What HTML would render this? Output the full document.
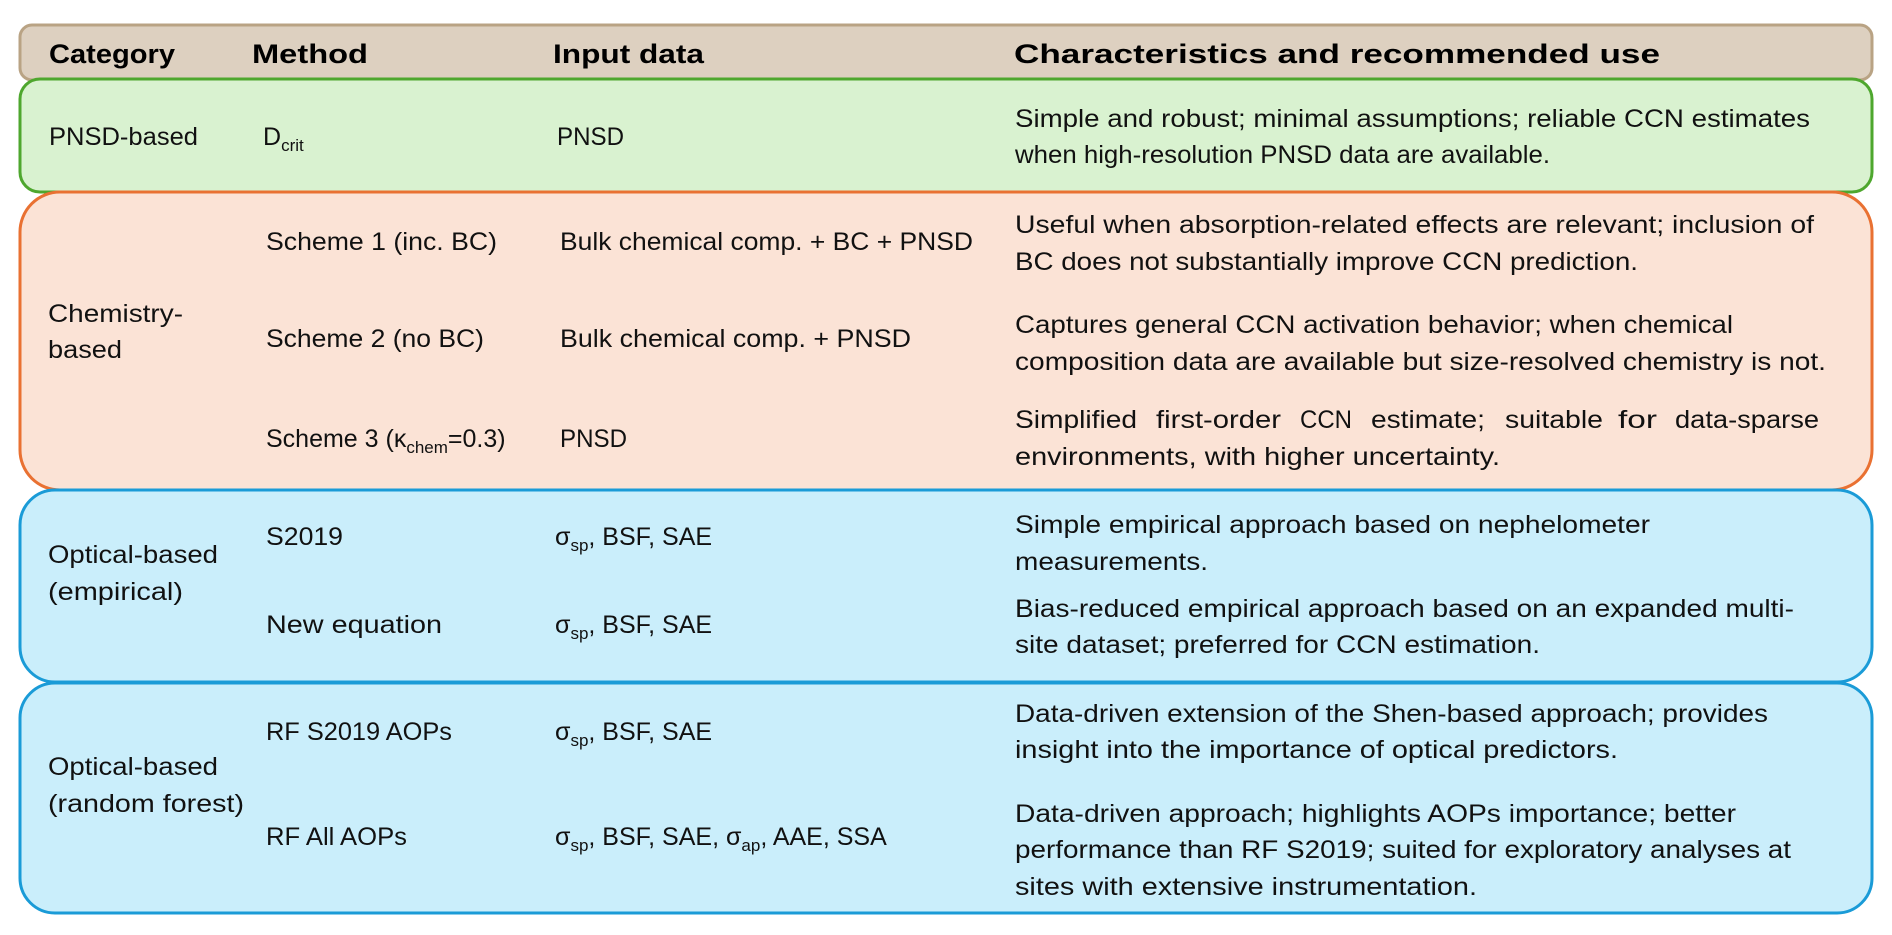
<!DOCTYPE html>
<html><head><meta charset="utf-8"><style>
html,body{margin:0;padding:0;background:#fff;width:1892px;height:935px;overflow:hidden}
svg{display:block}
text{font-family:"Liberation Sans",sans-serif;font-size:25px;fill:#111}
.h{font-weight:bold;font-size:27px;fill:#000}
</style></head><body>
<svg width="1892" height="935" viewBox="0 0 1892 935">
<rect x="20" y="25" width="1852" height="55" rx="12" fill="#ddd0c0" stroke="#b9a384" stroke-width="3"/>
<text class="h" x="49" y="63" textLength="126" lengthAdjust="spacingAndGlyphs">Category</text>
<text class="h" x="252" y="63" textLength="116" lengthAdjust="spacingAndGlyphs">Method</text>
<text class="h" x="553" y="63" textLength="151" lengthAdjust="spacingAndGlyphs">Input data</text>
<text class="h" x="1014" y="63" textLength="646" lengthAdjust="spacingAndGlyphs">Characteristics and recommended use</text>

<rect x="20" y="79" width="1852" height="113" rx="20" fill="#d9f2d0" stroke="#4ea72e" stroke-width="3"/>
<text x="49" y="145" textLength="149" lengthAdjust="spacingAndGlyphs">PNSD-based</text>
<text x="263" y="145">D<tspan font-size="17" dy="6">crit</tspan></text>
<text x="557" y="145" textLength="67" lengthAdjust="spacingAndGlyphs">PNSD</text>
<text x="1015" y="127" textLength="795" lengthAdjust="spacingAndGlyphs">Simple and robust; minimal assumptions; reliable CCN estimates</text>
<text x="1015" y="163" textLength="535" lengthAdjust="spacingAndGlyphs">when high-resolution PNSD data are available.</text>

<rect x="20" y="192" width="1852" height="298" rx="40" fill="#fbe3d6" stroke="#e97132" stroke-width="3"/>
<text x="48" y="322" textLength="135" lengthAdjust="spacingAndGlyphs">Chemistry-</text>
<text x="48" y="358" textLength="74" lengthAdjust="spacingAndGlyphs">based</text>
<text x="266" y="250" textLength="231" lengthAdjust="spacingAndGlyphs">Scheme 1 (inc. BC)</text>
<text x="266" y="347" textLength="218" lengthAdjust="spacingAndGlyphs">Scheme 2 (no BC)</text>
<text x="266" y="447">Scheme 3 (κ<tspan font-size="17" dy="6">chem</tspan><tspan dy="-6">=0.3)</tspan></text>
<text x="560" y="250" textLength="413" lengthAdjust="spacingAndGlyphs">Bulk chemical comp. + BC + PNSD</text>
<text x="560" y="347" textLength="351" lengthAdjust="spacingAndGlyphs">Bulk chemical comp. + PNSD</text>
<text x="560" y="447" textLength="67" lengthAdjust="spacingAndGlyphs">PNSD</text>
<text x="1015" y="233" textLength="799" lengthAdjust="spacingAndGlyphs">Useful when absorption-related effects are relevant; inclusion of</text>
<text x="1015" y="270" textLength="623" lengthAdjust="spacingAndGlyphs">BC does not substantially improve CCN prediction.</text>
<text x="1015" y="333" textLength="718" lengthAdjust="spacingAndGlyphs">Captures general CCN activation behavior; when chemical</text>
<text x="1015" y="370" textLength="811" lengthAdjust="spacingAndGlyphs">composition data are available but size-resolved chemistry is not.</text>
<g>
<text x="1015" y="428" textLength="122" lengthAdjust="spacingAndGlyphs">Simplified</text>
<text x="1156" y="428" textLength="125" lengthAdjust="spacingAndGlyphs">first-order</text>
<text x="1300" y="428" textLength="52" lengthAdjust="spacingAndGlyphs">CCN</text>
<text x="1371" y="428" textLength="114" lengthAdjust="spacingAndGlyphs">estimate;</text>
<text x="1505" y="428" textLength="98" lengthAdjust="spacingAndGlyphs">suitable</text>
<text x="1618" y="428" textLength="39" lengthAdjust="spacingAndGlyphs">for</text>
<text x="1675" y="428" textLength="144" lengthAdjust="spacingAndGlyphs">data-sparse</text>
</g>
<text x="1015" y="465" textLength="485" lengthAdjust="spacingAndGlyphs">environments, with higher uncertainty.</text>

<rect x="20" y="490" width="1852" height="192" rx="35" fill="#caeefb" stroke="#1a9bd7" stroke-width="3"/>
<text x="48" y="563" textLength="170" lengthAdjust="spacingAndGlyphs">Optical-based</text>
<text x="48" y="600" textLength="135" lengthAdjust="spacingAndGlyphs">(empirical)</text>
<text x="266" y="545" textLength="77" lengthAdjust="spacingAndGlyphs">S2019</text>
<text x="266" y="633" textLength="176" lengthAdjust="spacingAndGlyphs">New equation</text>
<text x="555" y="545">σ<tspan font-size="17" dy="6">sp</tspan><tspan dy="-6">, BSF, SAE</tspan></text>
<text x="555" y="633">σ<tspan font-size="17" dy="6">sp</tspan><tspan dy="-6">, BSF, SAE</tspan></text>
<text x="1015" y="533" textLength="635" lengthAdjust="spacingAndGlyphs">Simple empirical approach based on nephelometer</text>
<text x="1015" y="570" textLength="193" lengthAdjust="spacingAndGlyphs">measurements.</text>
<text x="1015" y="617" textLength="779" lengthAdjust="spacingAndGlyphs">Bias-reduced empirical approach based on an expanded multi-</text>
<text x="1015" y="653" textLength="525" lengthAdjust="spacingAndGlyphs">site dataset; preferred for CCN estimation.</text>

<rect x="20" y="683" width="1852" height="230" rx="35" fill="#caeefb" stroke="#1a9bd7" stroke-width="3"/>
<text x="48" y="775" textLength="170" lengthAdjust="spacingAndGlyphs">Optical-based</text>
<text x="48" y="812" textLength="196" lengthAdjust="spacingAndGlyphs">(random forest)</text>
<text x="266" y="740" textLength="186" lengthAdjust="spacingAndGlyphs">RF S2019 AOPs</text>
<text x="266" y="845" textLength="141" lengthAdjust="spacingAndGlyphs">RF All AOPs</text>
<text x="555" y="740">σ<tspan font-size="17" dy="6">sp</tspan><tspan dy="-6">, BSF, SAE</tspan></text>
<text x="555" y="845">σ<tspan font-size="17" dy="6">sp</tspan><tspan dy="-6">, BSF, SAE, σ</tspan><tspan font-size="17" dy="6">ap</tspan><tspan dy="-6">, AAE, SSA</tspan></text>
<text x="1015" y="722" textLength="753" lengthAdjust="spacingAndGlyphs">Data-driven extension of the Shen-based approach; provides</text>
<text x="1015" y="758" textLength="603" lengthAdjust="spacingAndGlyphs">insight into the importance of optical predictors.</text>
<text x="1015" y="822" textLength="721" lengthAdjust="spacingAndGlyphs">Data-driven approach; highlights AOPs importance; better</text>
<text x="1015" y="858" textLength="776" lengthAdjust="spacingAndGlyphs">performance than RF S2019; suited for exploratory analyses at</text>
<text x="1015" y="895" textLength="462" lengthAdjust="spacingAndGlyphs">sites with extensive instrumentation.</text>
</svg>
</body></html>
